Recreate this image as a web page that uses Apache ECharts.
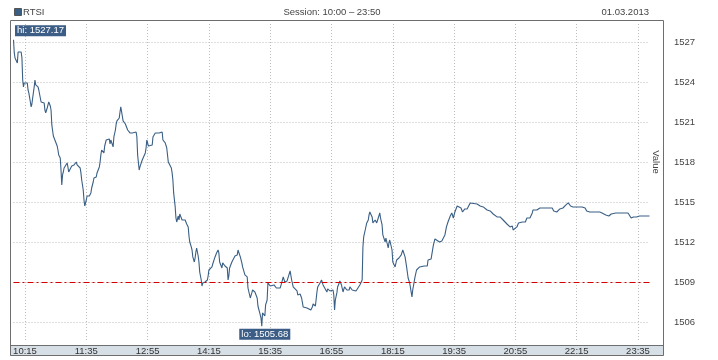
<!DOCTYPE html>
<html><head><meta charset="utf-8">
<script src="https://cdn.jsdelivr.net/npm/echarts@6/dist/echarts.min.js"></script>
<style>html,body{margin:0;padding:0;background:#fff}#c{width:718px;height:360px}</style>
</head><body><div id="c"></div>
<script>
const seriesName = 'RTSI';
const sessionText = 'Session: 10:00 \u2013 23:50';
const dateText = '01.03.2013';
const axisName = 'Value';
const sessionStart = '10:00';
const sessionEnd = '23:50';
const xTickLabels = ['10:15','11:35','12:55','14:15','15:35','16:55','18:15','19:35','20:55','22:15','23:35'];
const yTickValues = [1506,1509,1512,1515,1518,1521,1524,1527];
const prevClose = 1509;
// minutes since session start
const minutes = [0,1,2,3,5,6,7,8,10,11,
12,13,14,16,18,19,20,22,23,24,
25,27,28,29,32,33,35,36,37,40,
41,42,44,45,46,48,49,50,52,53,
54,55,57,58,59,61,62,63,64,65,
66,67,70,71,72,74,76,79,80,82,
83,85,87,88,89,91,92,93,95,96,
99,101,102,104,105,108,109,110,112,113,
114,115,117,118,119,121,122,125,126,127,
129,130,131,133,134,135,136,138,139,140,
142,143,146,147,148,149,152,153,155,157,
160,161,162,164,165,166,168,169,172,173,
174,176,178,181,182,185,187,190,192,194,
195,198,200,202,204,206,207,208,209,211,
212,213,215,216,217,219,220,221,224,226,
228,229,230,232,233,234,236,237,238,239,
241,242,243,245,246,247,250,253,254,255,
256,259,260,263,265,267,268,269,272,273,
276,279,280,281,282,285,286,289,292,293,
296,298,299,302,305,306,309,311,312,315,
318,319,322,323,324,325,327,328,329,331,
332,335,337,340,343,345,348,350,352,354,
357,358,361,363,365,367,370,371,374,376,
378,380,383,385,388,390,391,394,396,397,
400,402,404,406,409,410,413,415,417,418,
419,420,422,423,426,428,430,432,435,438,
439,442,444,447,449,452,455,456,457,459,
461,463,464,465,468,469,472,474,476,478,
479,481,482,485,486,487,489,490,491,494,
495,498,500,503,506,507,508,511,513,515,
517,520,521,524,526,530,536,540,541,545,
547,548,550,552,556,559,560,563,565,567,
570,572,574,576,579,580,584,586,589,592,
596,598,605,609,613,618,622,626,631,635,
639,644,648,651,652,654,657,659,664,668,
670,674,677,678,683,687,694,700,703,705,
709,713,717,721,724,727,730,735,742,746,
748,752,759,765,768,773,777,780,786,791,
798,802,806,809,813,817,824,830];
const values = [1527.17,1526.18,1525.80,1525.65,1525.43,1526.25,1526.40,1526.18,1526.25,1525.80,
1524.15,1523.63,1523.93,1523.85,1523.93,1523.40,1523.18,1522.50,1522.13,1522.35,
1522.80,1523.63,1524.15,1523.78,1523.63,1523.40,1522.80,1522.50,1522.65,1522.43,
1521.90,1521.68,1522.05,1522.28,1522.50,1522.20,1521.90,1520.78,1519.95,1520.03,
1519.65,1519.50,1519.20,1518.90,1518.53,1518.30,1517.40,1516.28,1517.03,1517.25,
1517.55,1517.70,1517.93,1517.63,1517.25,1517.40,1517.70,1517.78,1517.93,1518.00,
1517.78,1517.63,1517.55,1517.18,1516.65,1515.90,1515.15,1514.70,1515.15,1515.45,
1515.45,1515.68,1516.05,1516.50,1516.80,1516.88,1517.18,1517.25,1517.63,1518.00,
1518.53,1518.90,1518.75,1518.68,1519.20,1519.65,1519.58,1519.73,1519.35,1519.65,
1519.50,1519.13,1519.88,1520.40,1520.85,1521.08,1521.00,1521.30,1521.75,1522.13,
1521.45,1521.08,1520.85,1520.93,1520.70,1520.40,1520.18,1520.03,1520.18,1520.33,
1520.25,1519.88,1518.53,1517.40,1517.63,1517.55,1518.15,1518.30,1518.68,1519.05,
1519.65,1519.20,1519.13,1519.28,1519.88,1520.18,1520.33,1520.18,1520.33,1520.25,
1519.65,1519.43,1519.05,1518.00,1517.85,1517.55,1517.18,1516.65,1515.68,1514.63,
1513.80,1513.50,1513.95,1513.65,1514.10,1514.03,1513.65,1513.73,1513.65,1513.35,
1513.13,1512.45,1512.00,1511.63,1511.40,1510.88,1510.50,1510.80,1511.25,1511.55,
1510.95,1510.50,1509.75,1509.15,1508.70,1508.93,1509.00,1509.15,1509.45,1509.90,
1510.05,1510.13,1510.35,1510.88,1511.18,1511.40,1511.18,1510.50,1510.05,1510.43,
1510.20,1510.05,1509.15,1509.45,1510.05,1510.50,1510.58,1510.95,1511.03,1511.40,
1510.88,1510.43,1510.13,1509.53,1509.38,1508.55,1507.80,1508.18,1508.40,1508.25,
1507.80,1507.20,1506.53,1506.30,1505.68,1506.68,1506.83,1506.45,1507.28,1507.65,
1508.93,1508.70,1508.63,1508.78,1508.55,1508.70,1508.55,1508.93,1509.38,1509.00,
1509.08,1508.93,1509.83,1509.15,1508.63,1508.48,1508.33,1508.03,1508.10,1507.80,
1507.13,1507.28,1507.05,1507.20,1506.90,1507.13,1507.35,1507.20,1508.25,1508.63,
1508.93,1509.15,1508.78,1508.63,1508.25,1508.48,1508.33,1508.18,1508.40,1508.03,
1506.90,1507.65,1508.18,1508.63,1509.08,1508.78,1508.25,1508.63,1508.40,1508.40,
1508.63,1508.40,1508.55,1508.33,1508.40,1508.78,1509.15,1511.63,1512.38,1512.90,
1513.43,1513.65,1514.03,1514.25,1513.88,1513.43,1513.65,1513.43,1513.80,1514.18,
1513.80,1513.28,1512.53,1512.00,1512.30,1512.38,1511.55,1511.93,1512.15,1511.40,
1510.50,1510.13,1510.65,1510.80,1511.03,1511.18,1511.40,1510.88,1510.13,1509.30,
1508.93,1507.88,1508.40,1509.38,1509.90,1510.13,1510.20,1510.20,1510.65,1510.73,
1510.88,1511.78,1512.23,1512.15,1512.00,1512.08,1511.93,1512.53,1513.13,1513.50,
1513.95,1514.18,1513.80,1514.25,1514.70,1514.55,1514.55,1514.25,1514.48,1514.48,
1514.93,1514.85,1514.85,1514.70,1514.63,1514.40,1514.33,1514.10,1513.88,1513.88,
1513.65,1513.35,1513.13,1513.20,1512.90,1512.98,1513.13,1513.43,1513.50,1513.50,
1513.80,1513.80,1514.18,1514.40,1514.40,1514.55,1514.55,1514.55,1514.55,1514.33,
1514.25,1514.48,1514.55,1514.78,1514.93,1514.70,1514.63,1514.63,1514.63,1514.55,
1514.33,1514.25,1514.25,1514.25,1514.18,1514.03,1513.95,1514.10,1514.18,1514.18,
1514.18,1514.18,1513.80,1513.88,1513.88,1513.95,1513.95,1513.95];

function toMin(s){const p=s.split(':');return (+p[0])*60+(+p[1]);}
const startMin = toMin(sessionStart);
const endOffset = toMin(sessionEnd) - startMin;
const xTickPos = xTickLabels.map(s => toMin(s) - startMin);
function fmtMin(v){const t=Math.round(v)+startMin;const h=Math.floor(t/60),m=t%60;return h+':'+(m<10?'0':'')+m;}
const data = minutes.map((m,i)=>[m, values[i]]);

const FONT = '"Liberation Sans", Arial, sans-serif';
const lineColor = '#3a5f85';
const chart = echarts.init(document.getElementById('c'), null, {renderer:'canvas'});
chart.setOption({
  animation:false,
  backgroundColor:'#fff',
  grid:{left:13.5, right:68.5, top:24, bottom:19, containLabel:false},
  xAxis:{
    type:'value', min:0, max:endOffset,
    axisLine:{show:false},
    axisTick:{show:false, customValues:xTickPos},
    axisLabel:{customValues:xTickPos, formatter:fmtMin, margin:5, fontSize:9.5, fontFamily:FONT, color:'#333'},
    splitLine:{show:true, lineStyle:{color:'#bdbdbd', width:1, type:[1,2]}}
  },
  yAxis:{
    type:'value', position:'right', min:1504.575, max:1528.35,
    axisLine:{show:false},
    axisTick:{show:false, customValues:yTickValues},
    axisLabel:{customValues:yTickValues, formatter:v=>String(Math.round(v)), margin:24.5, fontSize:9.5, fontFamily:FONT, color:'#444'},
    splitLine:{show:true, lineStyle:{color:'#bdbdbd', width:1, type:[1,2]}}
  },
  series:[{
    name:seriesName, type:'line', data:data, showSymbol:false, symbol:'none',
    lineStyle:{color:lineColor, width:1.1}, itemStyle:{color:lineColor},
    markLine:{silent:true, symbol:'none', label:{show:false},
      lineStyle:{color:'#d40000', width:1, type:[6,3,2,3]},
      data:[{yAxis:prevClose}]},
    markPoint:{silent:true, symbol:'rect', symbolSize:1, itemStyle:{color:'transparent'},
      data:[
        {type:'max', label:{show:true, position:[2,-14], formatter:p=>'hi: '+p.value.toFixed(2)}},
        {type:'min', label:{show:true, position:[-22,3], formatter:p=>'lo: '+p.value.toFixed(2)}}
      ],
      label:{backgroundColor:'#3b5d86', color:'#fff', fontSize:9.5, fontFamily:FONT, lineHeight:11, padding:[0,2,0,2]}
    }
  }],
  graphic:[
    {type:'rect', z:-10, shape:{x:10, y:345, width:654, height:11}, style:{fill:'#d6dee6'}},
    {type:'rect', z:100, shape:{x:10.5, y:20.5, width:653, height:335}, style:{fill:'none', stroke:'#6e6e6e', lineWidth:1}},
    {type:'line', z:100, shape:{x1:10, y1:345.5, x2:664, y2:345.5}, style:{stroke:'#6e6e6e', lineWidth:1}},
    {type:'rect', z:100, shape:{x:14.5, y:8.5, width:7, height:7}, style:{fill:lineColor, stroke:'#555', lineWidth:1}},
    {type:'text', z:100, x:23, y:12, style:{text:seriesName, fill:'#444', font:'9.5px '+FONT, textAlign:'left', textVerticalAlign:'middle'}},
    {type:'text', z:100, x:332, y:12, style:{text:sessionText, fill:'#444', font:'9.5px '+FONT, textAlign:'center', textVerticalAlign:'middle'}},
    {type:'text', z:100, x:649, y:12, style:{text:dateText, fill:'#444', font:'9.5px '+FONT, textAlign:'right', textVerticalAlign:'middle'}},
    {type:'text', z:100, x:656, y:162, rotation:-Math.PI/2, style:{text:axisName, fill:'#444', font:'9.5px '+FONT, textAlign:'center', textVerticalAlign:'middle'}}
  ]
});
</script></body></html>
